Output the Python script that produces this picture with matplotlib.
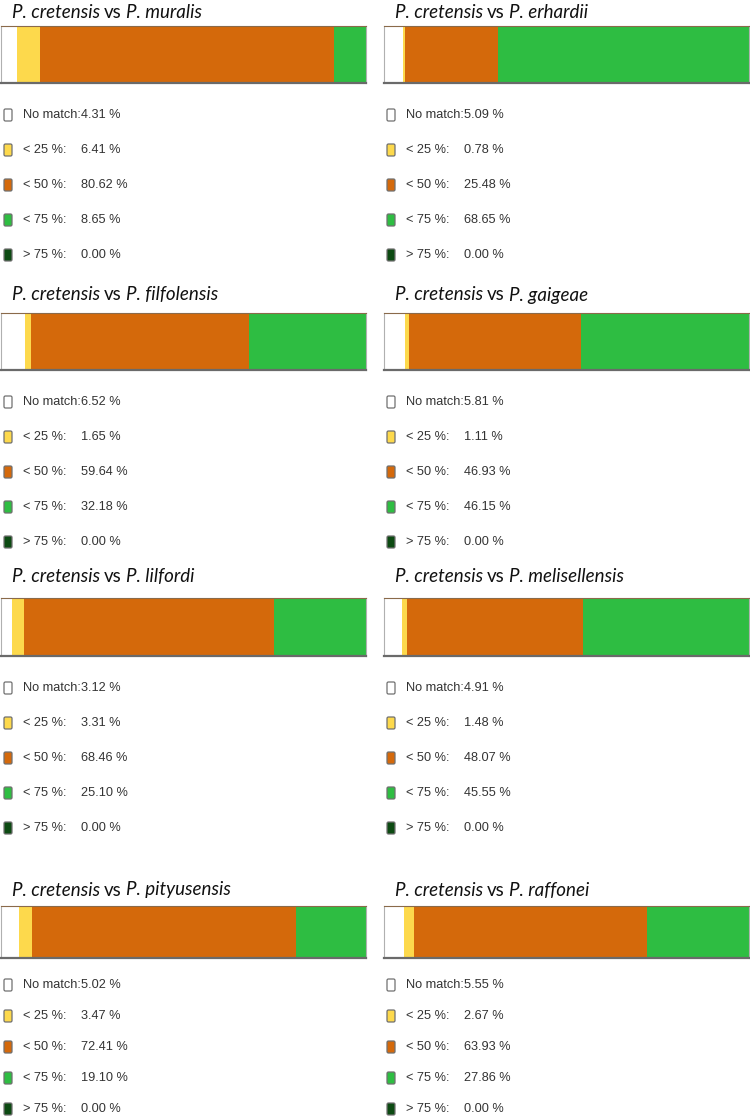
import matplotlib
matplotlib.use('Agg')
import matplotlib.pyplot as plt
from matplotlib.patches import FancyBboxPatch

# data: share of each class, per comparison
species = ['P. muralis', 'P. erhardii', 'P. filfolensis', 'P. gaigeae',
           'P. lilfordi', 'P. melisellensis', 'P. pityusensis', 'P. raffonei']
no_match = [4.31, 5.09, 6.52, 5.81, 3.12, 4.91, 5.02, 5.55]
lt25 = [6.41, 0.78, 1.65, 1.11, 3.31, 1.48, 3.47, 2.67]
lt50 = [80.62, 25.48, 59.64, 46.93, 68.46, 48.07, 72.41, 63.93]
lt75 = [8.65, 68.65, 32.18, 46.15, 25.10, 45.55, 19.10, 27.86]
gt75 = [0.00, 0.00, 0.00, 0.00, 0.00, 0.00, 0.00, 0.00]
class_labels = ['No match:', '< 25 %:', '< 50 %:', '< 75 %:', '> 75 %:']
colors = ['#ffffff', '#fdd94c', '#d4690b', '#2ebd42', '#0c4a12']

W, H = 750, 1116

# layout in pixels
col_x = [(1, 366), (384, 749)]
row_bar = [(26, 83), (313, 370), (598, 656), (906, 958)]
row_title = [12, 295, 577, 890]
row_legend = [(115, 35), (402, 35), (688, 35), (985, 31)]

fig = plt.figure(figsize=(W / 100, H / 100), dpi=100)
ov = fig.add_axes([0, 0, 1, 1])
ov.set_xlim(0, W)
ov.set_ylim(H, 0)
ov.axis('off')

legend_font = ['Liberation Sans', 'DejaVu Sans']
title_font = ['Lato', 'DejaVu Sans']
title_size = 13.5

for i, sp in enumerate(species):
    r, c = i // 2, i % 2
    x0, x1 = col_x[c]
    y0, y1 = row_bar[r]
    ax = fig.add_axes([x0 / W, 1 - y1 / H, (x1 - x0) / W, (y1 - y0) / H])
    vals = [no_match[i], lt25[i], lt50[i], lt75[i], gt75[i]]
    left = 0
    for v, col in zip(vals, colors):
        ax.barh(0, v, left=left, height=1, color=col, linewidth=0)
        left += v
    ax.set_xlim(0, 100)
    ax.set_ylim(-0.5, 0.5)
    ax.set_xticks([])
    ax.set_yticks([])
    for s in ['left', 'right']:
        ax.spines[s].set_color('#b0b0b0')
        ax.spines[s].set_linewidth(0.8)
    ax.spines['top'].set_color('#8a6a4a')
    ax.spines['top'].set_linewidth(0.8)
    ax.spines['bottom'].set_color('#6a6a6a')
    ax.spines['bottom'].set_linewidth(1.6)

    # title: italic species names, upright "vs"
    t1 = ov.text(x0 + 11, row_title[r], 'P. cretensis', fontsize=title_size,
                 style='italic', family=title_font, va='center', color='#111111')
    t2 = ov.annotate('vs', xy=(1, 0), xycoords=t1, xytext=(4, 0),
                     textcoords='offset pixels', fontsize=title_size, family=title_font,
                     va='bottom', ha='left', color='#111111')
    ov.annotate(sp, xy=(1, 0), xycoords=t2, xytext=(4, 0),
                textcoords='offset pixels', fontsize=title_size, style='italic',
                family=title_font, va='bottom', ha='left', color='#111111')

    # legend
    ly, dy = row_legend[r]
    for k, (lab, v, col) in enumerate(zip(class_labels, vals, colors)):
        yy = ly + k * dy
        ov.add_patch(FancyBboxPatch((x0 + 3, yy - 6), 8, 12,
                                    boxstyle='round,pad=0,rounding_size=1.5',
                                    facecolor=col, edgecolor='#707070', linewidth=0.9))
        ov.text(x0 + 22, yy, lab, fontsize=9.2, family=legend_font,
                va='center', ha='left', color='#333333')
        ov.text(x0 + 80, yy, '%.2f %%' % v, fontsize=9.2, family=legend_font,
                va='center', ha='left', color='#333333')

fig.savefig('out.png', dpi=100, facecolor='white')
